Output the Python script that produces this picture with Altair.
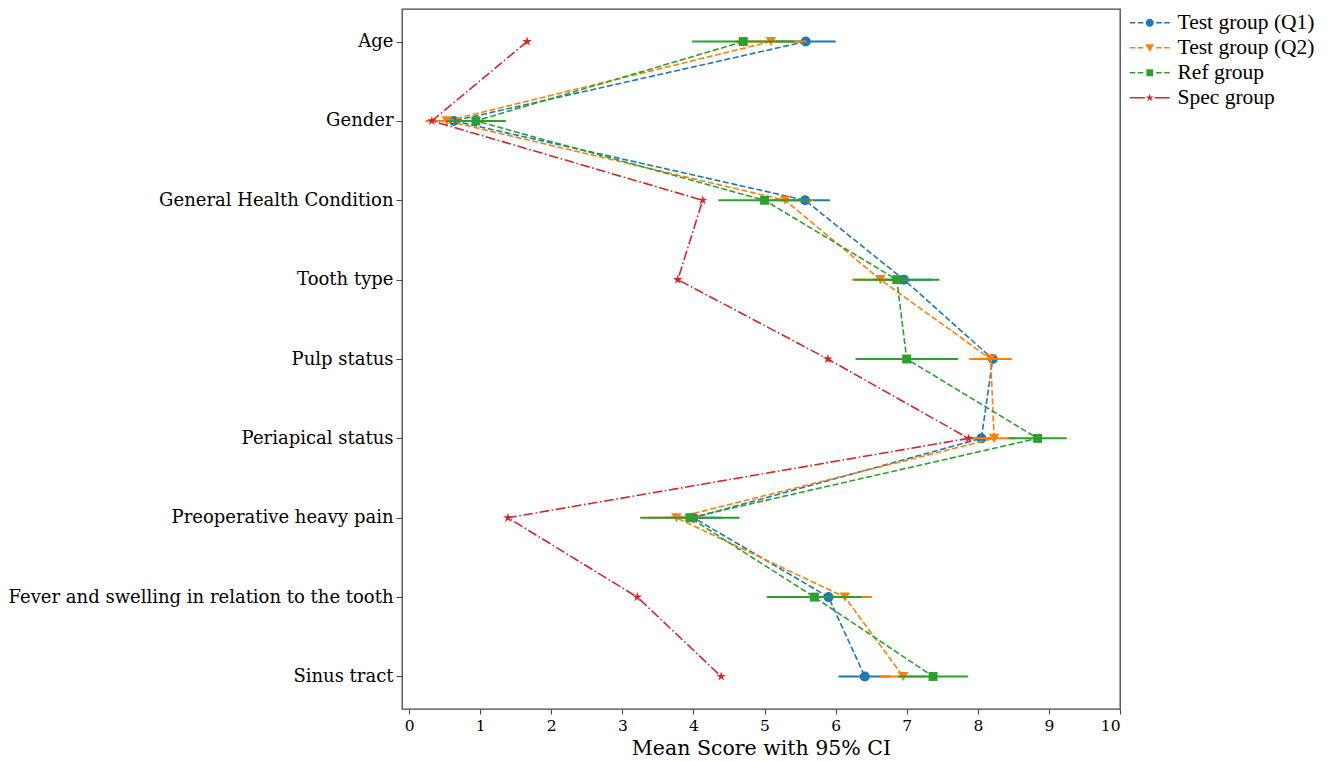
import altair as alt
import pandas as pd

categories = ["Age", "Gender", "General Health Condition", "Tooth type", "Pulp status",
              "Periapical status", "Preoperative heavy pain",
              "Fever and swelling in relation to the tooth", "Sinus tract"]

series_names = ["Test group (Q1)", "Test group (Q2)", "Ref group", "Spec group"]
series_colors = ["#1f77b4", "#ff7f0e", "#2ca02c", "#d62728"]

q1_mean = [5.58, 0.63, 5.57, 6.96, 8.21, 8.05, 4.00, 5.90, 6.41]
q1_err = [0.42, 0.30, 0.35, 0.40, 0.15, 0.20, 0.40, 0.40, 0.37]
q2_mean = [5.09, 0.53, 5.29, 6.63, 8.18, 8.23, 3.76, 6.13, 6.95]
q2_err = [0.50, 0.30, 0.40, 0.40, 0.30, 0.30, 0.40, 0.38, 0.33]
ref_mean = [4.70, 0.94, 5.00, 6.86, 7.00, 8.84, 3.95, 5.70, 7.37]
ref_err = [0.72, 0.42, 0.65, 0.60, 0.72, 0.41, 0.70, 0.67, 0.49]
spec_mean = [1.66, 0.32, 4.13, 3.78, 5.89, 7.87, 1.39, 3.21, 4.39]

means = [q1_mean, q2_mean, ref_mean, spec_mean]
errs = [q1_err, q2_err, ref_err, None]

rows = []
for name, m, e in zip(series_names, means, errs):
    for i, c in enumerate(categories):
        err = e[i] if e is not None else 0.0
        rows.append({"series": name, "cat": c, "idx": i, "mean": m[i],
                     "lo": m[i] - err, "hi": m[i] + err})
df = pd.DataFrame(rows)

FONT = "DejaVu Serif"
xs = alt.Scale(domain=[-0.1, 10], nice=False, zero=False)
ys = alt.Scale(type="point", domain=categories, padding=0.41)
x_axis = alt.Axis(values=list(range(11)), format="d", title="Mean Score with 95% CI",
                  grid=False, domain=False, tickColor="#444", tickSize=5,
                  labelFont=FONT, labelFontSize=15.5, labelPadding=4, labelColor="black",
                  titleFont=FONT, titleFontSize=20.5, titleFontWeight="normal",
                  titleColor="black", titlePadding=5)
y_axis = alt.Axis(title=None, grid=False, domain=False, tickColor="#444", tickSize=6,
                  labelFont=FONT, labelFontSize=18, labelColor="black", labelPadding=3,
                  labelLimit=0)

X = alt.X("mean:Q", scale=xs, axis=x_axis)
Y = alt.Y("cat:N", scale=ys, axis=y_axis, sort=categories)

star_path = ("M0,-1.05L0.236,-0.325L0.999,-0.325L0.382,0.124L0.618,0.85L0,0.401"
             "L-0.618,0.85L-0.382,0.124L-0.999,-0.325L-0.236,-0.325Z")
shapes = ["circle", "triangle-down", "square", star_path]
sizes = [100, 110, 80, 90]
dashes = [[6, 2.6], [6, 2.6], [6, 2.6], [9.6, 2.6, 1.6, 2.6]]

layers = []
for k, name in enumerate(series_names):
    base = alt.Chart(df).transform_filter(alt.datum.series == name)
    if errs[k] is not None:
        layers.append(base.mark_rule(color=series_colors[k], strokeWidth=2).encode(
            x=alt.X("lo:Q", scale=xs, axis=x_axis), x2="hi:Q", y=Y))
    layers.append(base.mark_line(color=series_colors[k], strokeWidth=1.6,
                                 strokeDash=dashes[k]).encode(x=X, y=Y, order="idx:Q"))
    layers.append(base.mark_point(filled=True, opacity=1, shape=shapes[k], size=sizes[k],
                                  color=series_colors[k], strokeWidth=0).encode(x=X, y=Y))

# legend symbols: line segments + marker
def rect(a, b, h=0.19):
    return f"M{a},{-h}H{b}V{h}H{a}Z"

dash_line = rect(-5, -3.6) + rect(-3.0, -1.6) + rect(1.6, 3.0) + rect(3.6, 5)
spec_line = rect(-5, -1.2) + rect(1.2, 5)
leg_circle = "M-1,0A1,1 0 1,0 1,0A1,1 0 1,0 -1,0Z"
leg_tri = "M-1.1,-0.9H1.1L0,1.0Z"
leg_sq = "M-0.85,-0.85H0.85V0.85H-0.85Z"
legend_shapes = [dash_line + leg_circle, dash_line + leg_tri, dash_line + leg_sq,
                 spec_line + star_path]

legend_layer = alt.Chart(df).transform_filter("false").mark_point(
    filled=True, opacity=1).encode(
    x=X, y=Y,
    color=alt.Color("series:N", scale=alt.Scale(domain=series_names, range=series_colors),
                    legend=alt.Legend(title=None, orient="none", legendX=737, legendY=3,
                                      labelFont="Liberation Serif", labelFontSize=21.5,
                                      labelColor="black", symbolSize=64,
                                      symbolStrokeWidth=0, labelOffset=17,
                                      rowPadding=2, padding=0)),
    shape=alt.Shape("series:N", scale=alt.Scale(domain=series_names, range=legend_shapes)),
)

chart = alt.layer(*layers, legend_layer).properties(
    width=718, height=700,
    padding={"left": 394, "top": 1, "right": 200, "bottom": 50},
    autosize=alt.AutoSizeParams(type="none"),
).configure_view(stroke="#444", strokeWidth=1.3)

chart.save("out.html", embed_options={"renderer": "svg", "actions": False})
